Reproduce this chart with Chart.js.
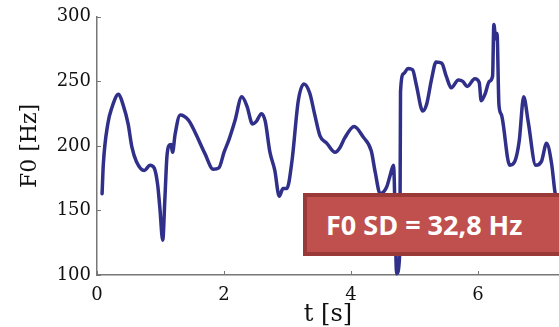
<!DOCTYPE html>
<html>
<head>
<meta charset="utf-8">
<script src="https://cdn.jsdelivr.net/npm/chart.js@4.4.1/dist/chart.umd.min.js"></script>
<style>
  html, body { margin: 0; padding: 0; background: #fff; overflow: hidden; }
  #wrap { position: relative; width: 559px; height: 327px; overflow: hidden; }
  #sdBox {
    position: absolute; left: 303px; top: 193px; width: 280px; height: 63px;
    box-sizing: border-box; background: #c0504d; border: 4px solid #9a3a38;
    color: #fff; font: bold 27px 'Open Sans', Lato, sans-serif;
    line-height: 55px; padding-left: 19px; white-space: nowrap;
  }
</style>
</head>
<body>
<div id="wrap">
  <canvas id="f0Chart" width="559" height="327"></canvas>
  <div id="sdBox">F0 SD = 32,8 Hz</div>
</div>
<script>
// pitch track
const times = [0.08, 0.10, 0.17, 0.23, 0.34, 0.41, 0.49, 0.55, 0.62, 0.745, 0.835, 0.90, 0.955, 0.99, 1.035,
  1.07, 1.10, 1.13, 1.165, 1.19, 1.23, 1.31, 1.44, 1.54, 1.70, 1.83, 1.92, 2.00, 2.08, 2.17, 2.28, 2.36,
  2.45, 2.51, 2.59, 2.65, 2.72, 2.80, 2.87, 2.93, 2.99, 3.07, 3.17, 3.26, 3.35, 3.43, 3.51, 3.62, 3.75,
  3.83, 3.90, 4.05, 4.19, 4.32, 4.38, 4.46, 4.56, 4.61, 4.67, 4.72, 4.77, 4.78, 4.83, 4.90, 4.97, 5.03,
  5.13, 5.19, 5.27, 5.34, 5.43, 5.50, 5.58, 5.69, 5.76, 5.83, 5.95, 6.02, 6.05, 6.11, 6.18, 6.23, 6.25,
  6.28, 6.30, 6.33, 6.37, 6.50, 6.58, 6.65, 6.72, 6.79, 6.91, 7.00, 7.08, 7.16, 7.21, 7.30];
const f0 = [163, 186, 217, 229, 240, 232, 217, 199, 188, 181, 185, 183, 170, 152, 127,
  160, 191, 200, 201, 195, 209, 224, 220, 211, 194, 182, 183, 195, 205, 219, 238, 231,
  217, 219, 225, 219, 196, 181, 161, 167, 167, 188, 235, 248, 241, 224, 208, 202, 195,
  199, 206, 215, 207, 196, 180, 163, 168, 176, 185, 101, 119, 242, 256, 260, 259, 247,
  227, 232, 252, 265, 264, 254, 245, 251, 250, 246, 252, 249, 235, 240, 250, 254, 294,
  283, 287, 232, 224, 185, 188, 204, 238, 219, 185, 188, 202, 186, 165, 140];
const xTicks = [0, 2, 4, 6];
const yTicks = [100, 150, 200, 250, 300];

const axisGrey = '#777777';

// small tick marks pointing into the plot, like the original figure
const innerTicks = {
  id: 'innerTicks',
  afterDraw(chart) {
    const { ctx, chartArea, scales } = chart;
    ctx.save();
    ctx.strokeStyle = axisGrey;
    ctx.lineWidth = 1;
    xTicks.forEach(v => {
      const px = Math.round(scales.x.getPixelForValue(v)) + 0.5;
      ctx.beginPath();
      ctx.moveTo(px, chartArea.bottom);
      ctx.lineTo(px, chartArea.bottom - 4);
      ctx.stroke();
    });
    yTicks.forEach(v => {
      const py = Math.round(scales.y.getPixelForValue(v)) + 0.5;
      ctx.beginPath();
      ctx.moveTo(chartArea.left, py);
      ctx.lineTo(chartArea.left + 4, py);
      ctx.stroke();
    });
    ctx.restore();
  }
};

new Chart(document.getElementById('f0Chart'), {
  type: 'line',
  data: {
    datasets: [{
      data: times.map((t, i) => ({ x: t, y: f0[i] })),
      borderColor: '#30308a',
      borderWidth: 3.5,
      pointRadius: 0,
      cubicInterpolationMode: 'monotone',
      borderCapStyle: 'round',
      borderJoinStyle: 'round',
      clip: false
    }]
  },
  options: {
    responsive: false,
    animation: false,
    layout: { padding: { top: 15, right: 0, left: 0, bottom: 0 } },
    plugins: { legend: { display: false }, tooltip: { enabled: false } },
    scales: {
      x: {
        type: 'linear',
        min: 0,
        max: 7.276,
        afterBuildTicks: s => { s.ticks = xTicks.map(v => ({ value: v })); },
        afterFit: s => { s.height = 52; },
        grid: { display: true, drawOnChartArea: false, drawTicks: false },
        border: { display: true, color: axisGrey, width: 1.5 },
        ticks: { color: '#111', padding: 10, maxRotation: 0, font: { family: 'DejaVu Serif', size: 18 } },
        title: { display: true, text: 't [s]', color: '#111', padding: { top: 0, bottom: -2 },
                 font: { family: 'DejaVu Serif', size: 24, lineHeight: 1.2 } }
      },
      y: {
        min: 100,
        max: 300,
        afterBuildTicks: s => { s.ticks = yTicks.map(v => ({ value: v })); },
        afterFit: s => { s.width = 97; },
        grid: { display: true, drawOnChartArea: false, drawTicks: false },
        border: { display: true, color: axisGrey, width: 1.5 },
        ticks: { color: '#111', padding: 6, font: { family: 'DejaVu Serif', size: 18 } },
        title: { display: true, text: 'F0 [Hz]', color: '#111', padding: { top: 17, bottom: 0 },
                 font: { family: 'DejaVu Serif', size: 22, lineHeight: 1.2 } }
      }
    }
  },
  plugins: [innerTicks]
});
</script>
</body>
</html>
